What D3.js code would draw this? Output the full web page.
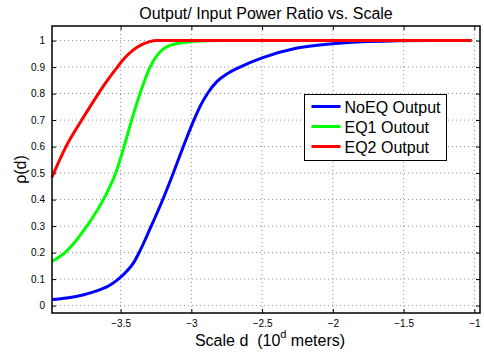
<!DOCTYPE html>
<html>
<head>
<meta charset="utf-8">
<script src="https://cdn.jsdelivr.net/npm/d3@7"></script>
<style>
  body { margin: 0; background: #fff; }
  text { font-family: "Liberation Sans", Arial, sans-serif; fill: #000; }
</style>
</head>
<body>
<div id="chart"></div>
<script>
// scale d (log10 of meters) and rho(d) for each series
var noEQx = [-3.985, -3.88, -3.76, -3.645, -3.58, -3.516, -3.46, -3.41, -3.36, -3.292, -3.21, -3.135,
             -3.064, -2.986, -2.93, -2.88, -2.82, -2.74, -2.657, -2.5, -2.26, -2.0, -1.79, -1.55, -1.3, -1.02];
var noEQ  = [0.023, 0.029, 0.041, 0.06, 0.076, 0.1, 0.128, 0.16, 0.21, 0.29, 0.39, 0.49,
             0.59, 0.695, 0.76, 0.805, 0.845, 0.877, 0.9, 0.935, 0.971, 0.988, 0.996, 0.999, 1.0, 1.0];

var eq1x = [-3.985, -3.893, -3.739, -3.622, -3.535, -3.476, -3.422, -3.363, -3.292, -3.2, -3.15, -3.1,
            -3.0, -2.9, -2.8, -1.02];
var eq1  = [0.167, 0.2, 0.3, 0.4, 0.5, 0.6, 0.7, 0.8, 0.9, 0.968, 0.982, 0.989,
            0.996, 0.999, 1.0, 1.0];

var eq2x = [-3.985, -3.886, -3.775, -3.657, -3.6, -3.53, -3.47, -3.41, -3.35, -3.3, -3.245, -1.02];
var eq2  = [0.485, 0.6, 0.7, 0.8, 0.845, 0.895, 0.935, 0.965, 0.985, 0.995, 1.0, 1.0];

var seriesNames = ["NoEQ Output", "EQ1 Outout", "EQ2 Output"];
var seriesColors = ["#0000ff", "#00ff00", "#ff0000"];

var xTicks = [-3.5, -3, -2.5, -2, -1.5, -1];
var yTicks = [0, 0.1, 0.2, 0.3, 0.4, 0.5, 0.6, 0.7, 0.8, 0.9, 1];

var W = 484, H = 354;
var margin = {top: 26, right: 4, bottom: 41, left: 52},
    width = W - margin.left - margin.right,
    height = H - margin.top - margin.bottom;

var svg = d3.select("#chart")
  .append("svg")
  .attr("width", W)
  .attr("height", H);

var g = svg.append("g")
  .attr("transform", "translate(" + margin.left + "," + margin.top + ")");

var x = d3.scaleLinear().domain([-3.985, -0.96]).range([0, width]);
var y = d3.scaleLinear().domain([-0.028, 1.055]).range([height, 0]);

// grid
g.append("g").selectAll("line").data(xTicks).enter().append("line")
  .attr("x1", function (d) { return x(d); }).attr("x2", function (d) { return x(d); })
  .attr("y1", 0).attr("y2", height)
  .attr("stroke", "#777").attr("stroke-width", 0.8).attr("stroke-dasharray", "1,3");
g.append("g").selectAll("line").data(yTicks).enter().append("line")
  .attr("y1", function (d) { return y(d); }).attr("y2", function (d) { return y(d); })
  .attr("x1", 0).attr("x2", width)
  .attr("stroke", "#777").attr("stroke-width", 0.8).attr("stroke-dasharray", "1,3");

// axes (ticks inward, on all four sides)
var fmtX = function (d) { return String(d).replace("-", "\u2212"); };
g.append("g")
  .attr("transform", "translate(0," + height + ")")
  .call(d3.axisBottom(x).tickValues(xTicks).tickSize(-4).tickPadding(7).tickFormat(fmtX));
g.append("g")
  .call(d3.axisLeft(y).tickValues(yTicks).tickSize(-4).tickPadding(7).tickFormat(d3.format("")));
g.append("g")
  .call(d3.axisTop(x).tickValues(xTicks).tickSize(-4).tickFormat(""));
g.append("g")
  .attr("transform", "translate(" + width + ",0)")
  .call(d3.axisRight(y).tickValues(yTicks).tickSize(-4).tickFormat(""));
g.selectAll(".domain").remove();
g.selectAll(".tick line").attr("stroke", "#000");
g.selectAll(".tick text").style("font-size", "10px").style("font-family", "Liberation Sans, Arial, sans-serif");

// lines
var allSeries = [[noEQx, noEQ], [eq1x, eq1], [eq2x, eq2]];
allSeries.forEach(function (s, k) {
  var line = d3.line()
    .x(function (d, i) { return x(s[0][i]); })
    .y(function (d) { return y(d); })
    .curve(d3.curveMonotoneX);
  g.append("path")
    .datum(s[1])
    .attr("d", line)
    .attr("fill", "none")
    .attr("stroke", seriesColors[k])
    .attr("stroke-width", 3);
});

// frame
g.append("rect")
  .attr("width", width).attr("height", height)
  .attr("fill", "none").attr("stroke", "#000").attr("stroke-width", 1.5);

// title and labels
svg.append("text")
  .attr("x", margin.left + width / 2).attr("y", 19)
  .attr("text-anchor", "middle").style("font-size", "16px")
  .text("Output/ Input Power Ratio vs. Scale");

var xl = svg.append("text")
  .attr("x", 270).attr("y", 346)
  .attr("text-anchor", "middle").style("font-size", "16px");
xl.append("tspan").text("Scale d\u00a0\u00a0(10");
xl.append("tspan").attr("dy", -8).style("font-size", "11px").text("d");
xl.append("tspan").attr("dy", 8).text(" meters)");

svg.append("text")
  .attr("transform", "translate(26," + (margin.top + height / 2) + ") rotate(-90)")
  .attr("text-anchor", "middle").style("font-size", "16px")
  .text("\u03c1(d)");

// legend
var lg = svg.append("g").attr("transform", "translate(304.5,94.5)");
lg.append("rect").attr("width", 142).attr("height", 66)
  .attr("fill", "#fff").attr("stroke", "#000").attr("stroke-width", 1);
seriesNames.forEach(function (name, k) {
  var ry = 12 + k * 20;
  lg.append("line").attr("x1", 7).attr("x2", 36).attr("y1", ry).attr("y2", ry)
    .attr("stroke", seriesColors[k]).attr("stroke-width", 3);
  lg.append("text").attr("x", 40).attr("y", ry + 6).style("font-size", "16px").text(name);
});
</script>
</body>
</html>
